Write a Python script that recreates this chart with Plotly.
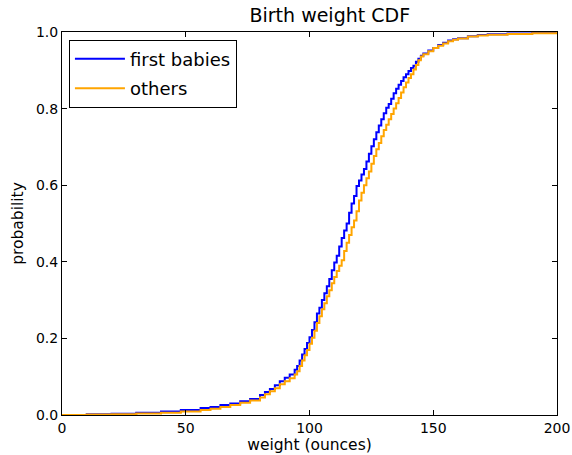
import plotly.graph_objects as go

first_w = [0, 10, 20, 30, 40, 48, 56, 60, 64, 68, 72, 76, 80, 82, 84, 86, 88, 90, 92, 94,
           95, 96, 97, 98, 99, 100, 101, 102, 103, 104, 105, 106, 107, 108, 109, 110,
           111, 112, 113, 114, 115, 116, 117, 118, 119, 120, 121, 122, 123, 124, 125,
           126, 127, 128, 129, 130, 131, 132, 133, 134, 135, 136, 137, 138, 139, 140,
           141, 142, 143, 144, 145, 146, 148, 150, 152, 154, 156, 158, 160, 164, 168,
           172, 180, 190, 200]
first_p = [0.0, 0.002, 0.003, 0.006, 0.009, 0.013, 0.018, 0.021, 0.026, 0.030, 0.036, 0.042,
           0.052, 0.060, 0.068, 0.078, 0.088, 0.097, 0.106, 0.118,
           0.128, 0.142, 0.158, 0.172, 0.188, 0.203, 0.222, 0.242, 0.265, 0.280, 0.300,
           0.318, 0.336, 0.355, 0.378, 0.398,
           0.416, 0.440, 0.462, 0.482, 0.500, 0.528, 0.552, 0.572, 0.598, 0.612, 0.628,
           0.642, 0.662, 0.682, 0.702,
           0.720, 0.738, 0.756, 0.772, 0.788, 0.802, 0.812, 0.826, 0.840, 0.852, 0.862,
           0.872, 0.882, 0.890, 0.898,
           0.906, 0.912, 0.922, 0.930, 0.938, 0.944, 0.952, 0.958, 0.966, 0.972, 0.978,
           0.981, 0.984, 0.989, 0.992,
           0.994, 0.996, 0.998, 1.0]

other_w = [0, 10, 20, 30, 40, 48, 56, 60, 64, 68, 72, 76, 80, 82, 84, 86, 88, 90, 92, 94,
           95, 96, 97, 98, 99, 100, 101, 102, 103, 104, 105, 106, 107, 108, 109, 110,
           111, 112, 113, 114, 115, 116, 117, 118, 119, 120, 121, 122, 123, 124, 125,
           126, 127, 128, 129, 130, 131, 132, 133, 134, 135, 136, 137, 138, 139, 140,
           141, 142, 143, 144, 145, 146, 148, 150, 152, 154, 156, 158, 160, 164, 168,
           172, 180, 190, 200]
other_p = [0.0, 0.001, 0.002, 0.004, 0.006, 0.009, 0.013, 0.016, 0.021, 0.026, 0.032, 0.038,
           0.046, 0.054, 0.062, 0.070, 0.080, 0.088, 0.096, 0.106,
           0.114, 0.128, 0.142, 0.156, 0.170, 0.186, 0.202, 0.220, 0.240, 0.258, 0.276,
           0.292, 0.310, 0.326, 0.344, 0.360,
           0.376, 0.390, 0.404, 0.428, 0.450, 0.470, 0.490, 0.508, 0.532, 0.560, 0.580,
           0.600, 0.618, 0.636, 0.656,
           0.676, 0.694, 0.710, 0.728, 0.744, 0.758, 0.772, 0.786, 0.800, 0.814, 0.828,
           0.842, 0.856, 0.868, 0.880,
           0.890, 0.902, 0.914, 0.926, 0.936, 0.942, 0.950, 0.958, 0.964, 0.970, 0.976,
           0.980, 0.983, 0.988, 0.991,
           0.993, 0.995, 0.997, 1.0]

x_ticks = [0, 50, 100, 150, 200]
y_ticks = [0.0, 0.2, 0.4, 0.6, 0.8, 1.0]
y_tick_labels = ["0.0", "0.2", "0.4", "0.6", "0.8", "1.0"]

fig = go.Figure()
fig.add_trace(go.Scatter(x=first_w, y=first_p, mode="lines", name="first babies",
                         legendgroup="a",
                         line=dict(color="#0000ff", width=2, shape="hv")))
fig.add_trace(go.Scatter(x=other_w, y=other_p, mode="lines", name="others",
                         legendgroup="b",
                         line=dict(color="#ffa500", width=2, shape="hv")))

font = "DejaVu Sans, sans-serif"
axis_common = dict(showgrid=False, zeroline=False, showline=True, linecolor="black",
                   linewidth=1, mirror="ticks", ticks="inside", ticklen=5,
                   tickcolor="black", automargin=False,
                   tickfont=dict(family=font, size=14, color="black"))

fig.update_layout(
    width=572, height=455,
    margin=dict(l=62, r=15, t=32, b=40, autoexpand=False),
    paper_bgcolor="white", plot_bgcolor="white",
    title=dict(text="Birth weight CDF", x=0.541, xanchor="center",
               xref="paper", y=0.966, yanchor="middle", yref="container",
               font=dict(family=font, size=19, color="black")),
    xaxis=dict(range=[0, 200], tickvals=x_ticks,
               title=dict(text="weight (ounces)", standoff=4,
                          font=dict(family=font, size=15.5, color="black")),
               **axis_common),
    yaxis=dict(range=[0, 1], tickvals=y_ticks, ticktext=y_tick_labels,
               title=dict(text="probability", standoff=8,
                          font=dict(family=font, size=15.5, color="black")),
               **axis_common),
    legend=dict(x=0.014, y=0.98, xanchor="left", yanchor="top",
                bordercolor="black", borderwidth=1, bgcolor="white",
                font=dict(family=font, size=18, color="black"),
                itemwidth=50, tracegroupgap=3, traceorder="grouped"),
    showlegend=True,
)

fig.write_html("out.html", config={"displayModeBar": False},
               post_script="document.body.style.margin='0';document.body.style.padding='0';")
